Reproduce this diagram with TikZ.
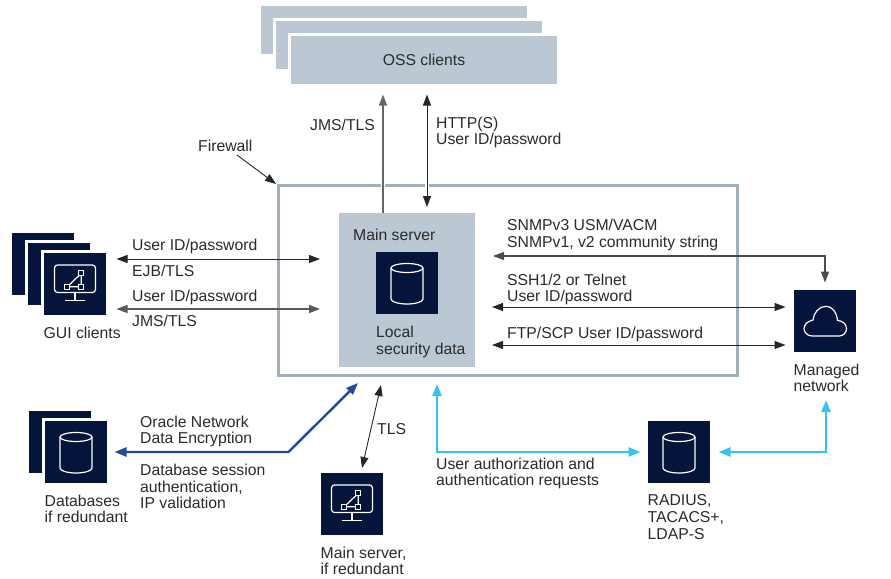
\documentclass[tikz,border=0pt]{standalone}
\usepackage{fontspec}
\setmainfont{Liberation Sans}
\usetikzlibrary{arrows.meta,positioning}
\definecolor{navy}{HTML}{05143A}
\definecolor{slate}{HTML}{BBC7D2}
\definecolor{wall}{HTML}{A2B0BE}
\definecolor{ink}{HTML}{2A2A2C}
\definecolor{oracle}{HTML}{1F4B9B}
\definecolor{auth}{HTML}{35C1F4}
\tikzset{
    %Define standard arrow tip
    >={Triangle[length=11pt,width=8pt]},
    %Define style for boxes
    icon/.style={
           rectangle,
           draw=white, line width=3pt,
           fill=navy,
           inner sep=0pt,
           minimum width=65pt,
           minimum height=65pt},
    oss/.style={
           rectangle,
           draw=white, line width=3pt,
           fill=slate,
           text=ink,
           inner sep=0pt,
           font=\fontsize{15.75}{16.8}\selectfont,
           minimum width=269pt,
           minimum height=51pt},
    lbl/.style={
           inner sep=0pt,
           text=ink,
           align=left,
           yshift=-1.5pt,
           font=\fontsize{15.75}{16.8}\selectfont},
    cap/.style={
           lbl,
           yshift=1.5pt,
           below right=8.5pt and 2.5pt of #1.south west},
    % Define arrow style
    pil/.style={
           draw=black!85,
           line width=1pt},
    halo/.style={
           preaction={draw=white,line width=4pt,arrows={-}}},
    blue/.style={
           <->,
           draw=oracle,
           line width=2.4pt,
           >={Triangle[length=12pt,width=9pt]}},
    cyan/.style={
           <->,
           draw=auth,
           line width=2.4pt,
           >={Triangle[length=12pt,width=9pt]}},
    ico/.style={
           draw=white,
           line width=1.2pt},
    dbicon/.pic={
        \draw[ico] (0,-15) ellipse [x radius=16pt,y radius=4.5pt];
        \draw[ico] (-16,-15) -- (-16,16) .. controls (-16,19) and (-8,21) .. (0,21)
            .. controls (8,21) and (16,19) .. (16,16) -- (16,-15);
    },
    guiicon/.pic={
        \draw[ico,rounded corners=3pt] (-20.5,-19) rectangle (20.5,8.5);
        \draw[ico] (0,8.5) -- (0,16.5) (-10,16.5) -- (10,16.5);
        \draw[ico] (-7.7,2.7) -- (6.3,2.7) -- (6.3,-10.7) -- cycle;
        \draw[ico,fill=navy] (-10.2,0.2) rectangle (-5.2,5.2);
        \draw[ico,fill=navy] (3.8,0.2) rectangle (8.8,5.2);
        \draw[ico,fill=navy] (3.8,-13.2) rectangle (8.8,-8.2);
    },
    cloudicon/.pic={
        \draw[ico] (-13,15) .. controls (-17.5,15) and (-21,11.5) .. (-21,7.5)
            .. controls (-21,3.5) and (-17.5,0.3) .. (-12,-1)
            .. controls (-11.5,-8) and (-6,-14.7) .. (1,-14.7)
            .. controls (7,-14.7) and (11.5,-9) .. (12.5,-0.7)
            .. controls (17.5,0) and (21.5,3) .. (21.5,7.5)
            .. controls (21.5,12) and (18,15) .. (14,15) -- cycle;
    }
}
\begin{document}
\begin{tikzpicture}[x=1pt,y=-1pt]
\useasboundingbox (0,0) rectangle (891,578);
% firewall and server
\node[draw=wall,line width=2.6pt,inner sep=0pt,minimum width=459.5pt,minimum height=190.5pt](wall) at (508,280.5){};
\node[fill=slate,inner sep=0pt,minimum width=136pt,minimum height=154pt](server) at (407,290){};
\node[icon,draw=none,minimum width=62pt,minimum height=62pt](local) at (407,283){};
\pic at (local.center) {dbicon};
\node[lbl,anchor=west] at (353,233.5){Main server};
\node[lbl,anchor=west] at (376,340.5){Local\\security data};
% OSS stack
\node[oss](oss1) at (394,30){};
\node[oss](oss2) at (409,45){};
\node[oss](oss3) at (424,60){OSS clients};
% GUI stack
\node[icon](gui1) at (43,264){};
\node[icon](gui2) at (59,274){};
\node[icon](gui3) at (75,284){};
\pic at (gui3.center) {guiicon};
\node[cap=gui3]{GUI clients};
% databases
\node[icon](db1) at (60,442){};
\node[icon](db2) at (76,452){};
\pic at (db2.center) {dbicon};
\node[cap=db2]{Databases\\if redundant};
% redundant server
\node[icon](backup) at (352,504){};
\pic at (backup.center) {guiicon};
\node[cap=backup]{Main server,\\if redundant};
% radius
\node[icon](radius) at (679,452){};
\pic at (radius.center) {dbicon};
\node[cap=radius]{RADIUS,\\TACACS+,\\LDAP-S};
% managed network
\node[icon](cloud) at (825,321){};
\pic at (cloud.center) {cloudicon};
\node[cap=cloud]{Managed\\network};
% free ends
\coordinate (e1) at (320,259);
\coordinate (e2) at (320,309);
\coordinate (e3) at (493,256);
\coordinate (e4) at (492,307);
\coordinate (e5) at (492,345);
\coordinate (e6) at (358,383);
\coordinate (e7) at (437,384);
\coordinate (e8) at (826,400);
\coordinate (e9) at (381,385);
\coordinate (e10) at (362,468);
\coordinate (e11) at (237,155);
\coordinate (e12) at (276,184);
\coordinate (e13) at (383,213);
\coordinate (e14) at (427,213);
\coordinate (b1) at (288.5,452);
% arrows
\draw[<->,pil,shorten <=7.5pt] (gui3.east |- e1) -- (e1);
\draw[<->,pil,draw=black!65,line width=1.4pt,shorten <=7.5pt] (gui3.east |- e2) -- (e2);
\draw[<-,pil,draw=black!60,line width=1.5pt,halo,shorten <=7.5pt] (oss3.south -| e13) -- (e13);
\draw[<->,pil,halo,shorten <=7.5pt,shorten >=6pt] (oss3.south -| e14) -- (e14);
\draw[<->,pil,draw=black!70,line width=1.2pt,shorten >=4.5pt] (e3) -| (cloud.north);
\draw[<->,pil,shorten >=5.5pt] (e4) -- (cloud.west |- e4);
\draw[<->,pil,shorten >=5.5pt] (e5) -- (cloud.west |- e5);
\draw[->,pil,line width=.9pt] (e11) -- (e12);
\draw[<->,pil,line width=.9pt] (e9) -- (e10);
\draw[blue,shorten <=4.5pt] (db2.east) -- (b1) -- (e6);
\draw[cyan,shorten >=4.5pt] (e7) |- (radius.west);
\draw[cyan,shorten <=5.5pt] (radius.east) -| (e8);
% arrow labels
\node[lbl,anchor=west] at (198,144.5){Firewall};
\node[lbl,anchor=west] at (310,123){JMS/TLS};
\node[lbl,anchor=west] at (436,131){HTTP(S)\\User ID/password};
\node[lbl,anchor=west] at (132,245){User ID/password};
\node[lbl,anchor=west] at (132,269.5){EJB/TLS};
\node[lbl,anchor=west] at (132,295.5){User ID/password};
\node[lbl,anchor=west] at (132,319.5){JMS/TLS};
\node[lbl,anchor=west] at (507,233.5){SNMPv3 USM/VACM\\SNMPv1, v2 community string};
\node[lbl,anchor=west] at (507,288){SSH1/2 or Telnet\\User ID/password};
\node[lbl,anchor=west] at (507,332.5){FTP/SCP User ID/password};
\node[lbl,anchor=west] at (377,428){TLS};
\node[lbl,anchor=west] at (140,430){Oracle Network\\Data Encryption};
\node[lbl,anchor=west] at (140,485){Database session\\authentication,\\IP validation};
\node[lbl,anchor=west] at (436,472){User authorization and\\authentication requests};
\end{tikzpicture}
\end{document}
